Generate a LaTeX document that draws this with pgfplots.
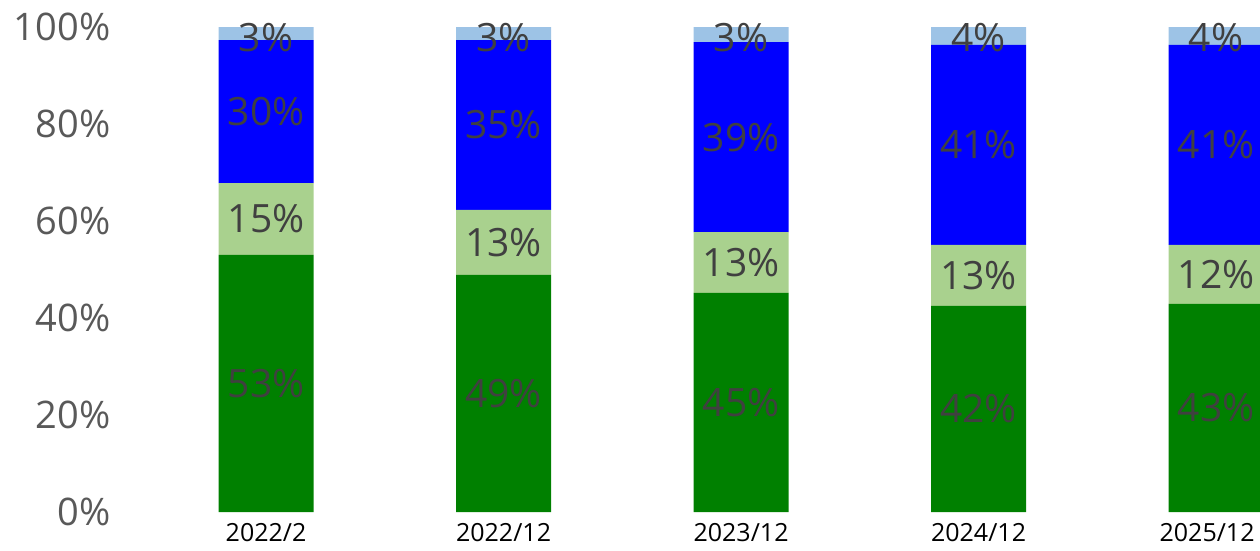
\documentclass[border=0pt]{standalone}
\usepackage{fontspec}
\setmainfont{Open Sans}
\usepackage{pgfplots}
\pgfplotsset{compat=1.18}
\definecolor{cG}{HTML}{008000}
\definecolor{cLG}{HTML}{A9D18E}
\definecolor{cB}{HTML}{0000FF}
\definecolor{cLB}{HTML}{9DC3E6}
\definecolor{lbl}{HTML}{404040}
\definecolor{tickc}{HTML}{595959}
\begin{document}
\begin{tikzpicture}
\begin{axis}[name=ax,
  width=1145pt, height=485pt, scale only axis,
  xmin=-0.636, xmax=4.185, ymin=0, ymax=100,
  ybar stacked, bar width=95pt,
  axis line style={draw=none},
  major tick length=0pt,
  xtick={0,1,2,3,4},
  xticklabels={2022/2,2022/12,2023/12,2024/12,\hspace*{-18pt}2025/12},
  ytick={0,20,40,60,80,100},
  yticklabels={0\%,20\%,40\%,60\%,80\%,100\%},
  yticklabel style={font=\fontsize{38}{42}\selectfont, text=tickc, anchor=east, xshift=-1pt},
  xticklabel style={font=\fontsize{25}{28}\selectfont, text=black, anchor=north, yshift=-10pt, inner sep=1pt},
]
\addplot[fill=cG, draw=none] coordinates {(0,53.0) (1,48.9) (2,45.2) (3,42.5) (4,42.9)};
\addplot[fill=cLG, draw=none] coordinates {(0,14.8) (1,13.4) (2,12.5) (3,12.6) (4,12.2)};
\addplot[fill=cB, draw=none] coordinates {(0,29.5) (1,35.0) (2,39.2) (3,41.2) (4,41.2)};
\addplot[fill=cLB, draw=none] coordinates {(0,2.7) (1,2.7) (2,3.1) (3,3.7) (4,3.7)};
\end{axis}
\begin{axis}[at={(ax.south west)}, anchor=south west,
  width=1145pt, height=485pt, scale only axis,
  xmin=-0.636, xmax=4.185, ymin=0, ymax=100,
  hide axis, clip=false]
\addplot[draw=none, mark=none, nodes near coords, point meta=explicit symbolic,
  every node near coord/.append style={anchor=center, font=\fontsize{39}{43}\selectfont, text=lbl}]
  coordinates {
  (0,26.5)[53\%] (0,60.4)[15\%] (0,82.55)[30\%] (0,97.8)[3\%]
  (1,24.45)[49\%] (1,55.6)[13\%] (1,79.8)[35\%] (1,97.8)[3\%]
  (2,22.6)[45\%] (2,51.45)[13\%] (2,77.3)[39\%] (2,97.8)[3\%]
  (3,21.25)[42\%] (3,48.8)[13\%] (3,75.7)[41\%] (3,97.9)[4\%]
  (4,21.45)[43\%] (4,49.0)[12\%] (4,75.7)[41\%] (4,97.9)[4\%]
  };
\end{axis}
\pgfresetboundingbox
\path[use as bounding box] (ax.south west) ++(-115pt,-38pt) rectangle ++(1260pt,550pt);
\end{tikzpicture}
\end{document}
